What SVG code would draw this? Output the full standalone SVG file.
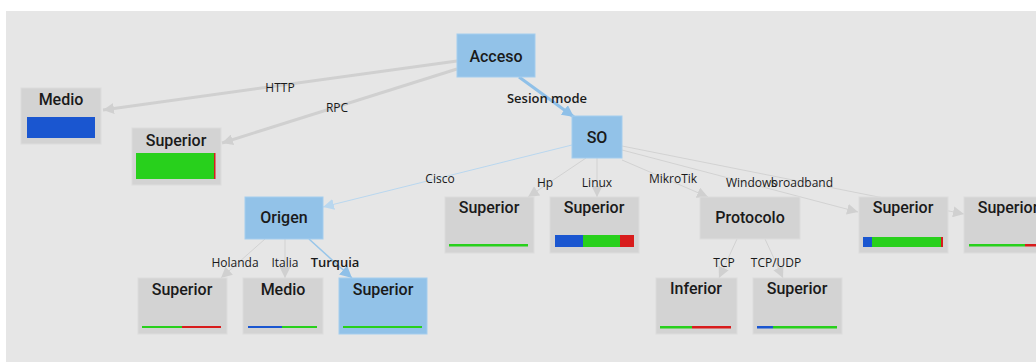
<svg xmlns="http://www.w3.org/2000/svg" width="1036" height="362" viewBox="0 0 1036 362">
<style>
.bg{fill:#e6e6e6}
.ng{fill:#d3d3d3;stroke:#dcdcdc;stroke-width:1}
.nb{fill:#92c2e8;stroke:#a4cdee;stroke-width:1}
.t{font-family:Roboto,"Liberation Sans",sans-serif;font-size:16px;font-weight:500;fill:#1a1a1a;text-anchor:middle}
.el{font-family:"Open Sans","Liberation Sans",sans-serif;font-size:12px;fill:#1a1a1a;text-anchor:middle}
.elb{font-family:"Open Sans","Liberation Sans",sans-serif;font-size:13px;font-weight:600;fill:#1a1a1a;text-anchor:middle}
.e{fill:none;stroke:#d2d2d2;stroke-width:1}
.ew{fill:none;stroke:#d0d0d0;stroke-width:3}
.eb{fill:none;stroke:#8fc0e8;stroke-width:3}
.ebt{fill:none;stroke:#b9d7ef;stroke-width:1}
.ebm{fill:none;stroke:#98c6ea;stroke-width:1.5}
.g{fill:#28d01c}.r{fill:#d81c1c}.b{fill:#1a56d0}
</style>
<defs>
<marker id="ag" viewBox="0 0 10 10" refX="10" refY="5" markerWidth="11" markerHeight="11" markerUnits="userSpaceOnUse" orient="auto"><path d="M0,0L10,5L0,10z" fill="#d0d0d0"/></marker>
<marker id="ab" viewBox="0 0 10 10" refX="10" refY="5" markerWidth="12" markerHeight="12" markerUnits="userSpaceOnUse" orient="auto"><path d="M0,0L10,5L0,10z" fill="#8fc0e8"/></marker>
<marker id="abl" viewBox="0 0 10 10" refX="10" refY="5" markerWidth="11" markerHeight="11" markerUnits="userSpaceOnUse" orient="auto"><path d="M0,0L10,5L0,10z" fill="#b9d7ef"/></marker>
</defs>
<rect class="bg" x="6" y="11" width="1030" height="351"/>
<g id="connectors">
<line class="ew" x1="457" y1="61" x2="103" y2="110" marker-end="url(#ag)"/>
<line class="ew" x1="457" y1="69" x2="222" y2="143" marker-end="url(#ag)"/>
<line class="eb" x1="519" y1="77" x2="574" y2="117" marker-end="url(#ab)"/>
<line class="ebt" x1="572" y1="145" x2="323" y2="207" marker-end="url(#abl)"/>
<line class="e" x1="586" y1="158" x2="528" y2="197" marker-end="url(#ag)"/>
<line class="e" x1="597" y1="158" x2="597" y2="197" marker-end="url(#ag)"/>
<line class="e" x1="622" y1="160" x2="708" y2="197" marker-end="url(#ag)"/>
<line class="e" x1="622" y1="150" x2="858" y2="212" marker-end="url(#ag)"/>
<line class="e" x1="622" y1="146" x2="964" y2="214" marker-end="url(#ag)"/>
<line class="e" x1="265" y1="239" x2="221" y2="278" marker-end="url(#ag)"/>
<line class="e" x1="285" y1="239" x2="285" y2="278" marker-end="url(#ag)"/>
<line class="ebm" x1="309" y1="239" x2="352" y2="278" marker-end="url(#ab)"/>
<line class="e" x1="737" y1="239" x2="719" y2="278" marker-end="url(#ag)"/>
<line class="e" x1="765" y1="239" x2="783" y2="278" marker-end="url(#ag)"/>
<text class="el" x="280" y="92">HTTP</text>
<text class="el" x="337" y="112">RPC</text>
<text class="elb" x="547" y="103">Sesion mode</text>
<text class="el" x="440" y="183">Cisco</text>
<text class="el" x="545" y="187">Hp</text>
<text class="el" x="597" y="187">Linux</text>
<text class="el" x="673" y="183">MikroTik</text>
<text class="el" x="726" y="187" style="text-anchor:start">Windows</text>
<text class="el" x="833" y="187" style="text-anchor:end">broadband</text>
<text class="el" x="235" y="267">Holanda</text>
<text class="el" x="285" y="267">Italia</text>
<text class="elb" x="335" y="267">Turquia</text>
<text class="el" x="724" y="267">TCP</text>
<text class="el" x="776" y="267">TCP/UDP</text>
</g>
<g id="acceso"><rect class="nb" x="457" y="34" width="78" height="43"/><text class="t" x="496" y="62">Acceso</text></g>
<g id="medio-top"><rect class="ng" x="21" y="88" width="80" height="56"/><text class="t" x="61" y="105">Medio</text><rect class="b" x="27" y="117" width="68" height="21"/></g>
<g id="superior-rpc"><rect class="ng" x="132" y="128" width="89" height="57"/><text class="t" x="176" y="146">Superior</text><rect class="g" x="136" y="153" width="78" height="26"/><rect class="r" x="214" y="153" width="1.5" height="26"/></g>
<g id="so"><rect class="nb" x="572" y="116" width="50" height="42"/><text class="t" x="597" y="143">SO</text></g>
<g id="origen"><rect class="nb" x="245" y="197" width="78" height="42"/><text class="t" x="284" y="223">Origen</text></g>
<g id="superior-hp"><rect class="ng" x="445" y="197" width="89" height="56"/><text class="t" x="489" y="213">Superior</text><rect class="g" x="449" y="244" width="79" height="2.5"/></g>
<g id="superior-linux"><rect class="ng" x="550" y="197" width="89" height="56"/><text class="t" x="594" y="213">Superior</text><rect class="b" x="555" y="235" width="28" height="12"/><rect class="g" x="583" y="235" width="37" height="12"/><rect class="r" x="620" y="235" width="14" height="12"/></g>
<g id="protocolo"><rect class="ng" x="700" y="197" width="100" height="42"/><text class="t" x="750" y="223">Protocolo</text></g>
<g id="superior-windows"><rect class="ng" x="859" y="197" width="89" height="56"/><text class="t" x="903" y="213">Superior</text><rect class="b" x="863" y="237" width="9" height="10"/><rect class="g" x="872" y="237" width="69" height="10"/><rect class="r" x="941" y="237" width="2" height="10"/></g>
<g id="superior-broadband"><rect class="ng" x="964" y="197" width="89" height="56"/><text class="t" x="1008" y="213">Superior</text><rect class="g" x="969" y="244" width="56" height="2.5"/><rect class="r" x="1025" y="244" width="15" height="2.5"/></g>
<g id="superior-holanda"><rect class="ng" x="138" y="278" width="89" height="56"/><text class="t" x="182" y="295">Superior</text><rect class="g" x="142" y="326" width="40" height="2"/><rect class="r" x="182" y="326" width="39" height="2"/></g>
<g id="medio-italia"><rect class="ng" x="243" y="278" width="80" height="56"/><text class="t" x="283" y="295">Medio</text><rect class="b" x="248" y="326" width="34" height="2"/><rect class="g" x="282" y="326" width="35" height="2"/></g>
<g id="superior-turquia"><rect class="nb" x="339" y="278" width="88" height="56"/><text class="t" x="383" y="295">Superior</text><rect class="g" x="343" y="326" width="79" height="2"/></g>
<g id="inferior-tcp"><rect class="ng" x="656" y="278" width="81" height="56"/><text class="t" x="696" y="294">Inferior</text><rect class="g" x="660" y="326" width="32" height="2.5"/><rect class="r" x="692" y="326" width="39" height="2.5"/></g>
<g id="superior-tcpudp"><rect class="ng" x="753" y="278" width="89" height="56"/><text class="t" x="797" y="294">Superior</text><rect class="b" x="757" y="326" width="16" height="2.5"/><rect class="g" x="773" y="326" width="64" height="2.5"/></g>
</svg>
